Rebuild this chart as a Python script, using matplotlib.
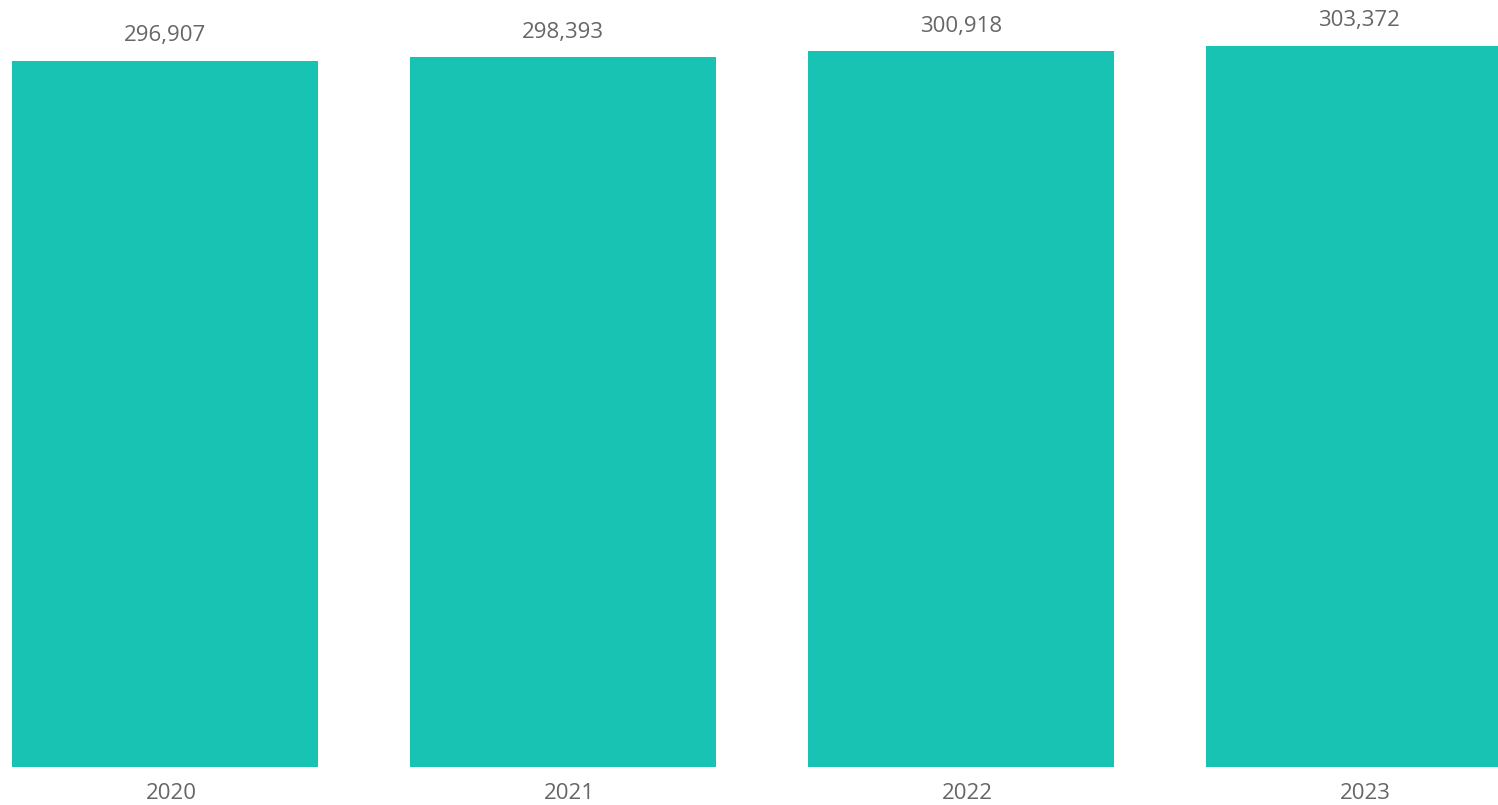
import matplotlib
matplotlib.use("Agg")
import matplotlib.pyplot as plt
from matplotlib.transforms import ScaledTranslation

years = ["2020", "2021", "2022", "2023"]
values = [296907, 298393, 300918, 303372]

BAR_COLOR = "#19C3B3"
TEXT_COLOR = "#666666"

plt.rcParams['font.family'] = ['Open Sans', 'DejaVu Sans']

fig = plt.figure(figsize=(14.98, 8.05), dpi=100)
ax = fig.add_axes([0, 38 / 805, 1, 767 / 805])

x = list(range(len(years)))
bars = ax.bar(x, values, width=0.769, color=BAR_COLOR)

ax.set_xlim(-165 / 398, 1498 / 398 - 165 / 398)
ax.set_ylim(0, 322567)

for xi, v in zip(x, values):
    ax.annotate(f"{v:,}", xy=(xi, v), xytext=(0, 18.2), textcoords="offset points",
                ha="center", va="center", fontsize=16, color=TEXT_COLOR)

ax.set_xticks(x)
ax.set_xticklabels(years, fontsize=16, color=TEXT_COLOR)
ax.tick_params(axis="x", length=0, pad=11.5)
shift = ScaledTranslation(6 / 100, 0, fig.dpi_scale_trans)
for lbl in ax.get_xticklabels():
    lbl.set_transform(lbl.get_transform() + shift)
ax.set_yticks([])
for s in ax.spines.values():
    s.set_visible(False)

fig.savefig("out.png", dpi=100)
